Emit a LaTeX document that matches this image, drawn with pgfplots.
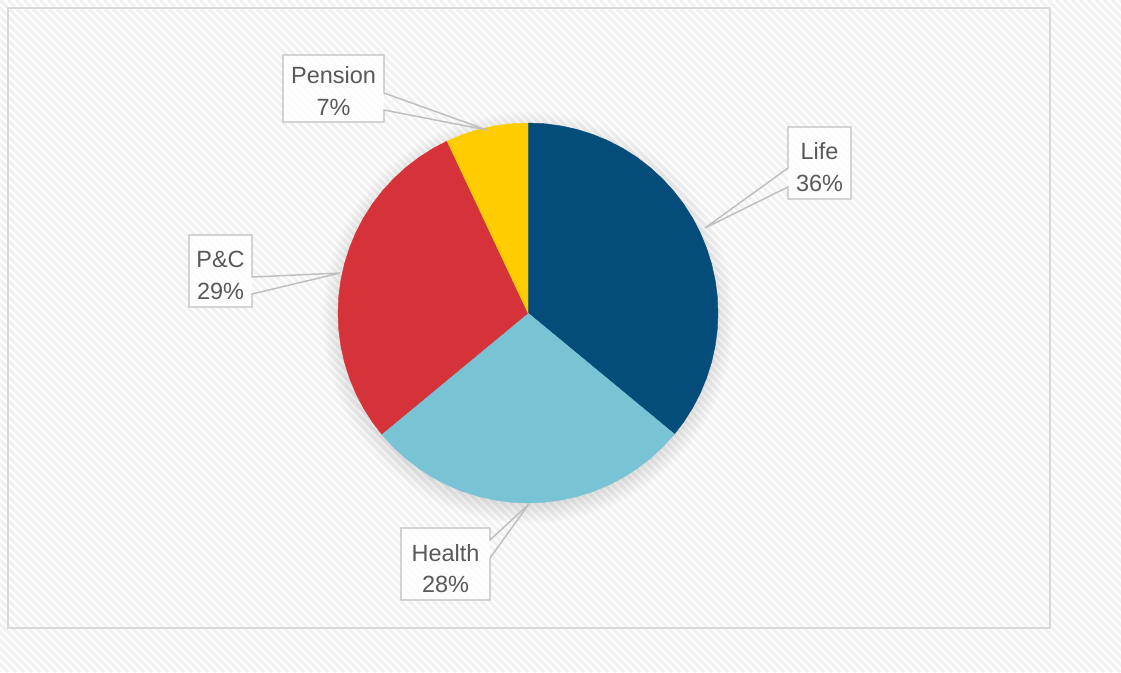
\documentclass[border=0pt]{standalone}
\usepackage{pgfplots}
\pgfplotsset{compat=1.18}
\usepackage{fontspec}
\setmainfont{Liberation Sans}
\definecolor{life}{RGB}{4,76,122}
\definecolor{health}{RGB}{120,195,212}
\definecolor{pc}{RGB}{213,50,57}
\definecolor{pension}{RGB}{255,204,0}
\definecolor{hatch}{RGB}{241,241,241}
\definecolor{frame}{RGB}{217,217,217}
\definecolor{boxc}{RGB}{191,191,191}
\definecolor{txtc}{RGB}{89,89,89}
\begin{document}
\begin{tikzpicture}[x=0.75pt,y=-0.75pt]
\fill[white] (0,0) rectangle (1121,672);
\begin{scope}
\clip (0,0) rectangle (1121,672);
\foreach \c in {-680,-672,...,1130} \draw[color=hatch, line width=2.2pt] (\c,0) -- ++(672,672);
\end{scope}
\draw[frame, line width=1.5pt] (8,8) rectangle (1050,628);
% soft shadow
\foreach \i in {1,...,16} \fill[black, opacity=0.008] (528,318) circle[radius=182+\i*1.5];
\begin{axis}[at={(396pt,-234.75pt)}, anchor=center, scale only axis, width=285pt, height=285pt,
  xmin=-190, xmax=190, ymin=-190, ymax=190, hide axis, clip=false]
\addplot[draw=life, line width=0.3pt, fill=life, data cs=polar] coordinates {
(0,0) (90,190) (85,190) (80,190) (75,190) (70,190) (65,190) (60,190) (55,190) (50,190) (45,190) (40,190) (35,190) (30,190) (25,190) (20,190) (15,190) (10,190) (5,190) (0,190) (-5,190) (-10,190) (-15,190) (-20,190) (-25,190) (-30,190) (-35,190) (-39.6,190)} -- cycle;
\addplot[draw=health, line width=0.3pt, fill=health, data cs=polar] coordinates {
(0,0) (-39.6,190) (-45,190) (-50,190) (-55,190) (-60,190) (-65,190) (-70,190) (-75,190) (-80,190) (-85,190) (-90,190) (-95,190) (-100,190) (-105,190) (-110,190) (-115,190) (-120,190) (-125,190) (-130,190) (-135,190) (-140,190) (-140.4,190)} -- cycle;
\addplot[draw=pc, line width=0.3pt, fill=pc, data cs=polar] coordinates {
(0,0) (-140.4,190) (-145,190) (-150,190) (-155,190) (-160,190) (-165,190) (-170,190) (-175,190) (-180,190) (-185,190) (-190,190) (-195,190) (-200,190) (-205,190) (-210,190) (-215,190) (-220,190) (-225,190) (-230,190) (-235,190) (-240,190) (-244.8,190)} -- cycle;
\addplot[draw=pension, line width=0.3pt, fill=pension, data cs=polar] coordinates {
(0,0) (-244.8,190) (-250,190) (-255,190) (-260,190) (-265,190) (-270,190)} -- cycle;
\end{axis}
\tikzset{txt/.style={text=txtc, font=\fontsize{17.6}{24}\selectfont, anchor=base, inner sep=0pt}}
% Pension
\fill[white, opacity=0.8] (283,55) rectangle (384,122);
\draw[boxc, line width=1.1pt, line join=miter] (283,55) -- (384,55) -- (384,93) -- (487,130) -- (384,110) -- (384,122) -- (283,122) -- cycle;
\node[txt] at (333.5,83) {Pension};
\node[txt] at (333.5,115) {7\%};
% Life
\fill[white, opacity=0.8] (788,127) rectangle (851,199);
\draw[boxc, line width=1.1pt, line join=miter] (788,127) -- (851,127) -- (851,199) -- (788,199) -- (788,187) -- (705,228) -- (788,168) -- cycle;
\node[txt] at (819.5,159) {Life};
\node[txt] at (819.5,191) {36\%};
% P&C
\fill[white, opacity=0.8] (189,235) rectangle (252,307);
\draw[boxc, line width=1.1pt, line join=miter] (189,235) -- (252,235) -- (252,277) -- (340,273) -- (252,294) -- (252,307) -- (189,307) -- cycle;
\node[txt] at (220.5,267) {P\&C};
\node[txt] at (220.5,299) {29\%};
% Health
\fill[white, opacity=0.8] (401,528) rectangle (490,600);
\draw[boxc, line width=1.1pt, line join=miter] (401,528) -- (490,528) -- (490,540) -- (529,504) -- (490,558) -- (490,600) -- (401,600) -- cycle;
\node[txt] at (445.5,561) {Health};
\node[txt] at (445.5,592) {28\%};
\end{tikzpicture}
\end{document}
